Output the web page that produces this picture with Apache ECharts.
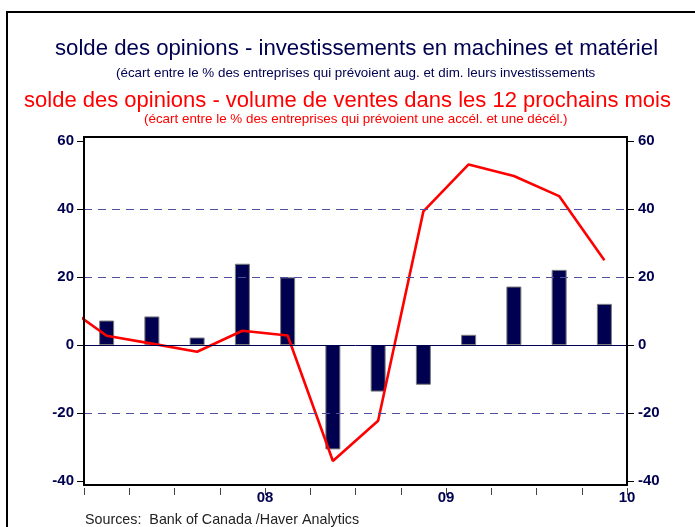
<!DOCTYPE html>
<html>
<head>
<meta charset="utf-8">
<script src="https://cdn.jsdelivr.net/npm/echarts@6/dist/echarts.min.js"></script>
<style>
  html, body { margin: 0; padding: 0; background: #fff; }
  #chart { width: 695px; height: 527px; }
</style>
</head>
<body>
<div id="chart"></div>
<script>
// trimestres 2007T1 .. 2009T4
let quarters = ['07T1','07T2','07T3','07T4','08T1','08T2','08T3','08T4','09T1','09T2','09T3','09T4']
// investissements en machines et matériel (barres)
let invest = [7.2, 8.4, 2.2, 23.9, 19.9, -30.7, -13.7, -11.7, 3.0, 17.2, 22.1, 12.1]
// volume de ventes (ligne) - first value is 06T4, cut by the left edge
let ventesPrev = 12.3
let ventes = [2.7, 0.4, -2.0, 4.2, 2.8, -34.1, -22.3, 39.3, 53.1, 49.7, 43.8, 24.9]
// labels of the year ticks
let yearTicks = [4, 8, 12]
let yearLabels = ['08', '09', '10']
let yTicks = [-40, -20, 0, 20, 40, 60]
let dashedLevels = [40, 20, -20]

const navy = '#000050'
const font = 'Liberation Sans, Arial, sans-serif'

let barData = invest.map(function (v, i) { return [i + 0.5, v] })
let lineData = [[-0.5, ventesPrev]].concat(ventes.map(function (v, i) { return [i + 0.5, v] }))

let yAxisBase = {
    type: 'value',
    min: yTicks[0],
    max: yTicks[yTicks.length - 1],
    interval: 20,
    axisLine: { show: false },
    axisTick: { show: true, length: 7, lineStyle: { color: '#000', width: 1 } },
    splitLine: { show: false },
    axisLabel: { color: navy, fontWeight: 'bold', fontSize: 15, fontFamily: font }
}

let chart = echarts.init(document.getElementById('chart'), null, { renderer: 'canvas' })
chart.setOption({
    animation: false,
    backgroundColor: '#fff',
    title: [
        {
            text: 'solde des opinions - investissements en machines et matériel',
            left: 50, top: 33,
            textStyle: { color: navy, fontSize: 22.2, fontWeight: 'normal', fontFamily: font }
        },
        {
            text: '(écart entre le % des entreprises qui prévoient aug. et dim. leurs investissements',
            left: 111, top: 62,
            textStyle: { color: navy, fontSize: 13.4, fontWeight: 'normal', fontFamily: font }
        },
        {
            text: 'solde des opinions - volume de ventes dans les 12 prochains mois',
            left: 'center', top: 85,
            textStyle: { color: '#ff0000', fontSize: 22, fontWeight: 'normal', fontFamily: font }
        },
        {
            text: '(écart entre le % des entreprises qui prévoient une accél. et une décél.)',
            left: 139, top: 108,
            textStyle: { color: '#ff0000', fontSize: 13.4, fontWeight: 'normal', fontFamily: font }
        },
        {
            text: 'Sources:  Bank of Canada /Haver Analytics',
            left: 80, top: 508,
            textStyle: { color: '#222', fontSize: 14.3, fontWeight: 'normal', fontFamily: font }
        }
    ],
    grid: { left: 84, right: 68, top: 141, bottom: 46 },
    xAxis: {
        type: 'value',
        min: 0,
        max: quarters.length,
        interval: 1,
        offset: 7,
        axisLine: { show: false, onZero: false },
        axisTick: { show: true, length: 7, inside: false, lineStyle: { color: '#444', width: 1 } },
        splitLine: { show: false },
        axisLabel: {
            showMinLabel: true, showMaxLabel: true,
            color: navy, fontWeight: 'bold', fontSize: 15, fontFamily: font, margin: 2,
            formatter: function (v) {
                let k = yearTicks.indexOf(v)
                return k >= 0 ? yearLabels[k] : ''
            }
        }
    },
    yAxis: [
        Object.assign({}, yAxisBase, { position: 'left', axisLabel: Object.assign({}, yAxisBase.axisLabel, { margin: 10 }) }),
        Object.assign({}, yAxisBase, { position: 'right', axisLabel: Object.assign({}, yAxisBase.axisLabel, { margin: 11 }) })
    ],
    graphic: [
        {
            type: 'rect', silent: true, z: 0,
            shape: { x: 7, y: 12, width: 720, height: 600 },
            style: { fill: null, stroke: '#000', lineWidth: 2 }
        },
        {
            type: 'rect', silent: true, z: 100,
            shape: { x: 84, y: 137, width: 543, height: 348 },
            style: { fill: null, stroke: '#000', lineWidth: 2 }
        }
    ],
    series: [
        {
            // grid lines
            type: 'line',
            data: [],
            z: 1,
            silent: true,
            markLine: {
                silent: true,
                symbol: 'none',
                label: { show: false },
                data: dashedLevels.map(function (v) {
                    return { yAxis: v, lineStyle: { color: '#50509e', width: 1, type: [8, 6] } }
                }).concat([{ yAxis: 0, lineStyle: { color: navy, width: 1, type: 'solid' } }])
            }
        },
        {
            name: 'investissements',
            type: 'bar',
            data: barData,
            barWidth: 15,
            z: 2,
            itemStyle: { color: navy, borderColor: '#7c7c7c', borderWidth: 1 }
        },
        {
            name: 'ventes',
            type: 'line',
            yAxisIndex: 1,
            data: lineData,
            z: 3,
            clip: true,
            symbol: 'none',
            lineStyle: { color: '#ff0000', width: 2.6 }
        }
    ]
})
</script>
</body>
</html>
